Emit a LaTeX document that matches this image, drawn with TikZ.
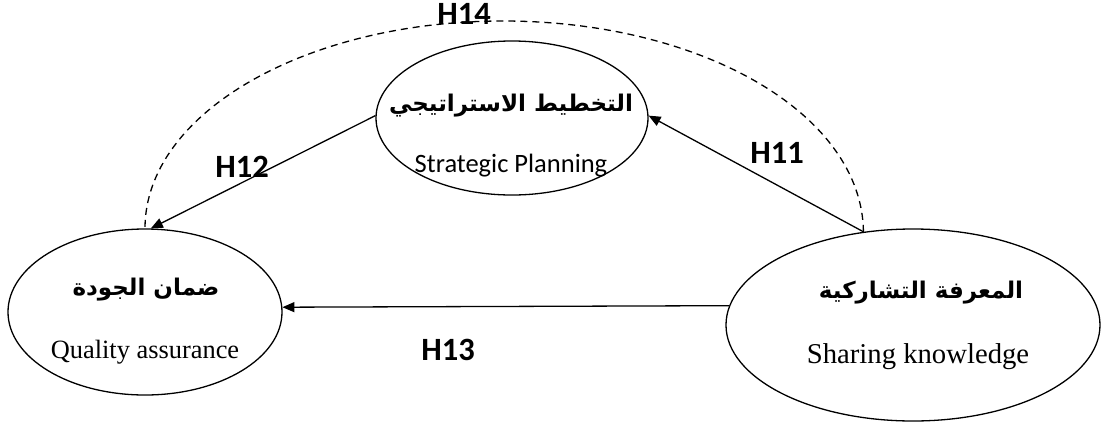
\documentclass[tikz,border=0pt]{standalone}
\usepackage{fontspec}
\usetikzlibrary{shapes.geometric,arrows.meta}
\TeXXeTstate=1
\setmainfont{Liberation Serif}
\newfontfamily\arabicfont[Script=Arabic]{DejaVu Sans}
\newfontfamily\calib{Carlito}
\tikzset{
  oval/.style={ellipse,draw,line width=1.3pt,inner sep=0pt},
  conn/.style={line width=1.3pt,-{Triangle[length=12pt,width=10pt]}},
  hyp/.style={font=\calib\bfseries\fontsize{32.5}{33}\selectfont,inner sep=0pt},
  artext/.style={font=\arabicfont\bfseries\fontsize{23}{26}\selectfont,inner sep=0pt},
}
\begin{document}
\begin{tikzpicture}[x=1pt,y=-1pt]
\useasboundingbox (0,0) rectangle (1101,421);
\clip (0,0) rectangle (1101,421);
% ovals
\node[oval,minimum width=272pt,minimum height=154pt] (sp) at (512,118) {};
\node[oval,minimum width=274pt,minimum height=166pt] (qa) at (145,312) {};
\node[oval,minimum width=374pt,minimum height=192pt] (sk) at (913,325) {};
% texts
\node[artext] (spar) at (511,106) {\beginR التخطيط الاستراتيجي\endR};
\node[font=\calib\fontsize{26.5}{28}\selectfont,inner sep=0pt] (spen) at (511,166) {Strategic Planning};
\node[artext] (qaar) at (146,290) {\beginR ضمان الجودة\endR};
\node[font=\fontsize{26.4}{28}\selectfont,inner sep=0pt] (qaen) at (145,352) {Quality assurance};
\node[artext] (skar) at (921,293) {\beginR المعرفة التشاركية\endR};
\node[font=\fontsize{28.7}{30}\selectfont,inner sep=0pt] (sken) at (918,357) {Sharing knowledge};
% connectors
\draw[conn] (sk.118) -- (sp.1);
\draw[conn] (sp.179) -- (qa.86);
\draw[conn] (sk.174) -- (qa.2);
\coordinate (top) at (503,21);
\draw[line width=1.3pt,dash pattern=on 7pt off 5pt] (sk.118) .. controls (862,113) and (700,21) .. (top)
  .. controls (306,21) and (145,113) .. (qa.90);
% hypothesis labels
\node[hyp] (h11) at (777,153) {H11};
\node[hyp] (h12) at (242,167) {H12};
\node[hyp] (h13) at (448,350) {H13};
\node[hyp,anchor=base] (h14) at (464,24) {H14};
\end{tikzpicture}
\end{document}
